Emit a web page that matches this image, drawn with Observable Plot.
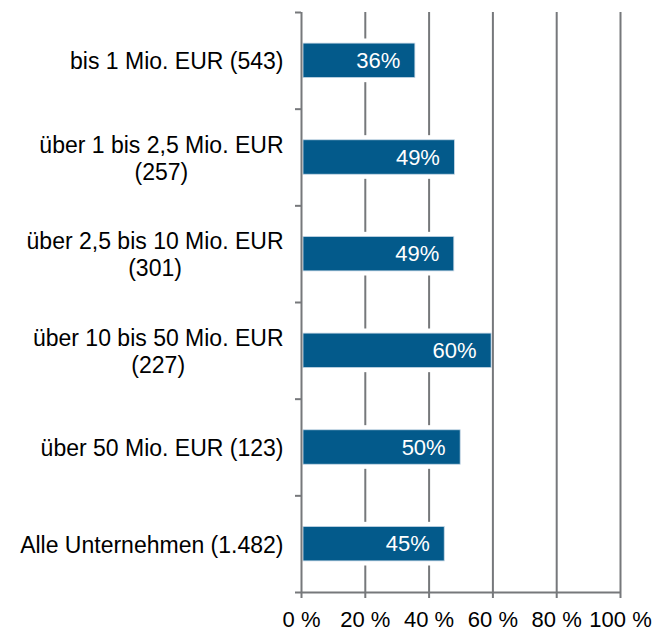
<!DOCTYPE html>
<html>
<head>
<meta charset="utf-8">
<script src="https://cdn.jsdelivr.net/npm/d3@7"></script>
<script src="https://cdn.jsdelivr.net/npm/@observablehq/plot@0.6"></script>
<style>
  html, body { margin: 0; padding: 0; background: #fff; }
  #chart svg { display: block; }
</style>
</head>
<body>
<div id="chart"></div>
<script>
const categories = [
  "bis 1 Mio. EUR (543)",
  "über 1 bis 2,5 Mio. EUR\n(257)",
  "über 2,5 bis 10 Mio. EUR\n(301)",
  "über 10 bis 50 Mio. EUR\n(227)",
  "über 50 Mio. EUR (123)",
  "Alle Unternehmen (1.482)"
];
const values = [35.7, 48.1, 47.9, 59.6, 49.9, 44.9];
const valueLabels = ["36%", "49%", "49%", "60%", "50%", "45%"];
const xTicks = [0, 20, 40, 60, 80, 100];

const data = categories.map((c, i) => ({cat: c, i, value: values[i], label: valueLabels[i]}));

const FONT = "'Liberation Sans', Arial, Helvetica, sans-serif";
const FS = 22;
const CAT_FS = 23;
const gridColor = "#76787b";
const barColor = "#035a8b";

const ctx = document.createElement("canvas").getContext("2d");
ctx.font = `${CAT_FS}px ${FONT}`;
const blockWidth = s => Math.max(...s.split("\n").map(l => ctx.measureText(l).width));

const labelMarks = data.map(d => Plot.text([d], {
  x: 0,
  y: e => e.i + 0.5,
  text: "cat",
  textAnchor: "middle",
  lineAnchor: "middle",
  lineHeight: 1.17,
  dx: -(18 + blockWidth(d.cat) / 2),
  fill: "#000",
  fontSize: CAT_FS
}));

const chart = Plot.plot({
  width: 666,
  height: 631,
  marginLeft: 301,
  marginRight: 46,
  marginTop: 12,
  marginBottom: 39,
  style: {fontFamily: FONT, fontSize: FS + "px", color: "#000", background: "#fff"},
  x: {domain: [0, 100]},
  y: {domain: [0, 6], reverse: true},
  marks: [
    Plot.ruleX(xTicks.slice(1), {y1: 0, y2: 6, stroke: gridColor, strokeWidth: 2}),
    Plot.rectX(data, {x1: 0, x2: "value", y1: "i", y2: d => d.i + 1, insetTop: 26.5, insetBottom: 26.5, insetLeft: 2, fill: "#fff"}),
    Plot.rectX(data, {x1: 0, x2: "value", y1: "i", y2: d => d.i + 1, insetTop: 31.1, insetBottom: 31.1, insetLeft: 2, fill: barColor, stroke: "#c8d8e6", strokeWidth: 0.8}),
    Plot.ruleX([0], {y1: 0, y2: 6, stroke: gridColor, strokeWidth: 2}),
    Plot.ruleY([6], {x1: 0, x2: 100, stroke: gridColor, strokeWidth: 2}),
    Plot.axisY(d3.range(7), {tickSize: 6, tickFormat: () => "", stroke: gridColor, strokeWidth: 2, label: null}),
    Plot.axisX(xTicks, {tickSize: 6, tickPadding: 13, tickFormat: d => d + " %", stroke: gridColor, strokeWidth: 2, fontSize: FS, fill: "#000", label: null}),
    Plot.text(data, {x: "value", y: d => d.i + 0.5, text: "label", textAnchor: "end", dx: -15, fill: "#fff", fontSize: FS}),
    ...labelMarks
  ]
});
document.getElementById("chart").appendChild(chart);
</script>
</body>
</html>
